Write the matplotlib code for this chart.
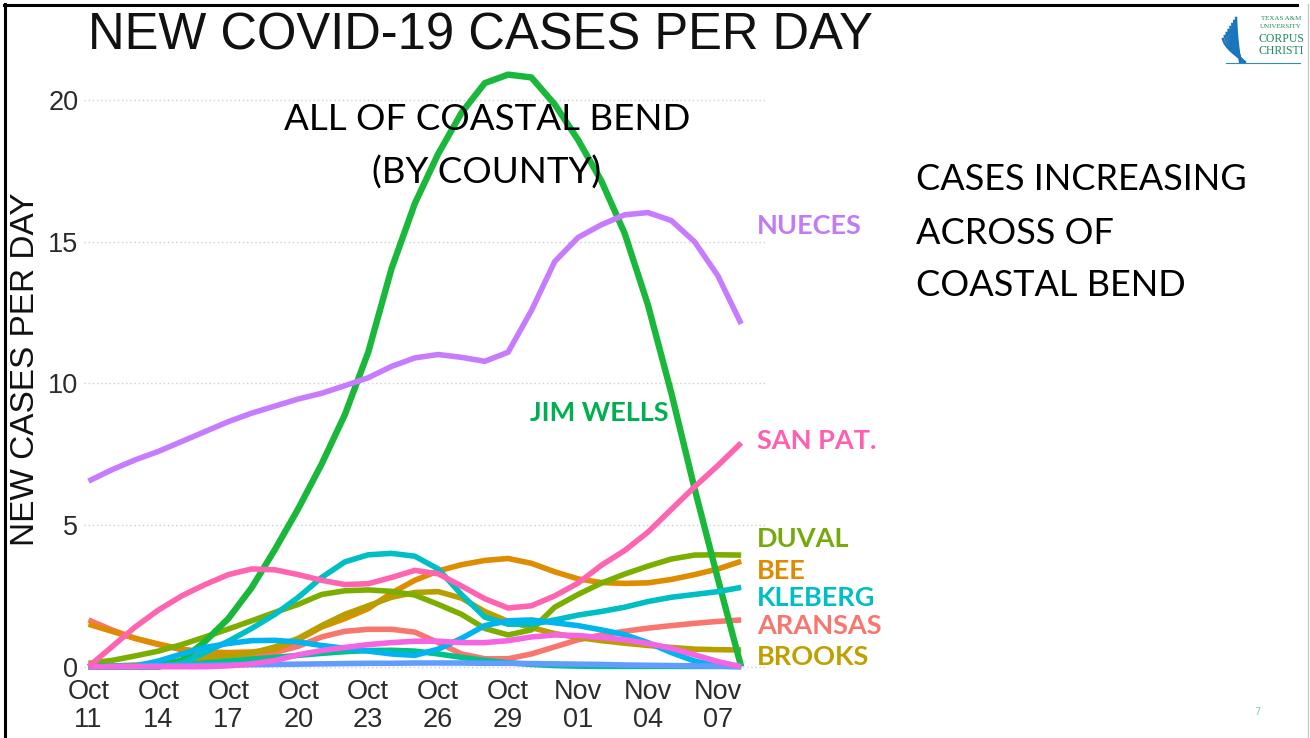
import matplotlib

matplotlib.use("Agg")
import matplotlib.pyplot as plt
import matplotlib.dates as mdates
from matplotlib.lines import Line2D
import numpy as np
import pandas as pd

# daily smoothed new cases, Oct 11 .. Nov 08
dates = pd.date_range("2020-10-11", "2020-11-08", freq="D")

aransas = [1.65, 1.3, 1.0, 0.78, 0.6, 0.48, 0.42, 0.42, 0.5, 0.72, 1.05, 1.25, 1.32, 1.32, 1.22,
           0.85, 0.45, 0.28, 0.28, 0.45, 0.7, 0.95, 1.12, 1.25, 1.36, 1.45, 1.53, 1.6, 1.65]
bee = [1.5, 1.25, 1.0, 0.8, 0.62, 0.52, 0.5, 0.52, 0.6, 0.95, 1.4, 1.7, 2.05, 2.6, 3.05,
       3.38, 3.6, 3.75, 3.82, 3.65, 3.35, 3.1, 2.97, 2.94, 2.96, 3.08, 3.25, 3.45, 3.72]
brooks = [0, 0.02, 0.06, 0.12, 0.2, 0.3, 0.38, 0.48, 0.7, 1.0, 1.45, 1.85, 2.15, 2.45, 2.62,
          2.65, 2.42, 1.95, 1.6, 1.38, 1.17, 1.03, 0.92, 0.83, 0.75, 0.68, 0.62, 0.6, 0.59]
duval = [0.12, 0.22, 0.38, 0.55, 0.78, 1.05, 1.33, 1.62, 1.92, 2.2, 2.55, 2.68, 2.71, 2.66, 2.53,
         2.2, 1.85, 1.35, 1.12, 1.3, 2.1, 2.55, 2.95, 3.27, 3.55, 3.8, 3.94, 3.95, 3.94]
jim_wells = [0, 0, 0, 0, 0.22, 0.89, 1.7, 2.79, 4.14, 5.58, 7.15, 8.9, 11.1, 14.05, 16.35,
             18.1, 19.55, 20.6, 20.9, 20.8, 19.85, 18.6, 17.15, 15.3, 12.77, 9.67, 6.29, 3.1, 0]
jim_hogg = [0, 0, 0, 0.02, 0.07, 0.13, 0.2, 0.27, 0.33, 0.4, 0.47, 0.53, 0.57, 0.58, 0.55,
            0.45, 0.33, 0.22, 0.14, 0.08, 0.04, 0.02, 0.01, 0.01, 0.01, 0.01, 0.01, 0.01, 0.01]
kleberg = [0, 0, 0, 0, 0.12, 0.5, 0.9, 1.35, 1.85, 2.45, 3.15, 3.7, 3.95, 4.0, 3.9,
           3.45, 2.55, 1.75, 1.5, 1.5, 1.65, 1.82, 1.95, 2.1, 2.3, 2.45, 2.55, 2.65, 2.8]
live_oak = [0, 0, 0.02, 0.2, 0.45, 0.68, 0.82, 0.92, 0.93, 0.87, 0.75, 0.65, 0.55, 0.45, 0.4,
            0.62, 1.0, 1.45, 1.62, 1.65, 1.55, 1.45, 1.3, 1.13, 0.85, 0.5, 0.2, 0.02, 0]
mcmullen = [0, 0.01, 0.02, 0.03, 0.04, 0.05, 0.06, 0.07, 0.08, 0.09, 0.1, 0.11, 0.12, 0.12, 0.13,
            0.13, 0.13, 0.12, 0.12, 0.11, 0.1, 0.09, 0.08, 0.06, 0.05, 0.04, 0.03, 0.02, 0.01]
nueces = [6.55, 6.95, 7.3, 7.6, 7.95, 8.3, 8.65, 8.95, 9.2, 9.45, 9.65, 9.92, 10.2, 10.6, 10.9,
          11.02, 10.92, 10.78, 11.1, 12.57, 14.3, 15.15, 15.6, 15.95, 16.03, 15.75, 15.0, 13.8, 12.1]
refugio = [0, 0, 0, 0, 0, 0, 0.03, 0.1, 0.22, 0.42, 0.57, 0.68, 0.78, 0.85, 0.9,
           0.9, 0.85, 0.85, 0.92, 1.05, 1.12, 1.1, 1.03, 0.95, 0.82, 0.65, 0.42, 0.18, 0]
san_pat = [0, 0.7, 1.4, 2.0, 2.5, 2.9, 3.25, 3.45, 3.42, 3.25, 3.05, 2.9, 2.93, 3.15, 3.4,
           3.28, 2.85, 2.4, 2.07, 2.15, 2.5, 2.95, 3.58, 4.1, 4.75, 5.55, 6.35, 7.1, 7.9]

series = [aransas, bee, brooks, duval, jim_wells, jim_hogg, kleberg, live_oak,
          mcmullen, nueces, refugio, san_pat]
colors = ["#F8766D", "#DE8C00", "#B79F00", "#7CAE00", "#19B83A", "#00C08B", "#00BFC4",
          "#00B4F0", "#619CFF", "#C77CFF", "#F564E3", "#FF64B0"]

tick_dates = ["2020-10-11", "2020-10-14", "2020-10-17", "2020-10-20", "2020-10-23",
              "2020-10-26", "2020-10-29", "2020-11-01", "2020-11-04", "2020-11-07"]
tick_labels = ["Oct\n11", "Oct\n14", "Oct\n17", "Oct\n20", "Oct\n23",
               "Oct\n26", "Oct\n29", "Nov\n01", "Nov\n04", "Nov\n07"]
y_ticks = [0, 5, 10, 15, 20]

county_labels = ["NUECES", "SAN PAT.", "DUVAL", "BEE", "KLEBERG", "ARANSAS", "BROOKS"]
county_colors = ["#C17CF5", "#FF5FB0", "#76A90C", "#E08A00", "#00BFC4", "#F8766D", "#C0A000"]
county_y = [225, 440, 538, 570, 597, 625, 656]

W, H = 1310, 738


def fx(x):
    return np.asarray(x) / W


def fy(y):
    return 1 - np.asarray(y) / H


fig = plt.figure(figsize=(W / 100, H / 100), dpi=100)

# plot panel
left, right, top, bottom = 84, 765, 58, 672
ax = fig.add_axes([fx(left), fy(bottom), (right - left) / W, (bottom - top) / H])
d0 = mdates.date2num(pd.Timestamp("2020-10-11"))
px_day = 23.31
ax.set_xlim(d0 - (88.5 - left) / px_day, d0 - (88.5 - left) / px_day + (right - left) / px_day)
px_unit = 28.33
ax.set_ylim(-(bottom - 666.7) / px_unit, (666.7 - top) / px_unit)

for yv in y_ticks:
    ax.axhline(yv, color="#cfcfcf", lw=1.0, ls=(0, (1, 2)), zorder=0)

for vals, c in zip(series, colors):
    lw = 4.6 if c == "#19B83A" else 4.0
    ax.plot(dates, vals, color=c, lw=lw, solid_capstyle="butt", solid_joinstyle="round")

ax.set_xticks(pd.to_datetime(tick_dates))
ax.set_xticklabels(tick_labels, fontsize=19.5, family="Liberation Sans", color="#2b2b2b",
                   linespacing=1.08)
ax.set_yticks(y_ticks)
ax.set_yticklabels([str(v) for v in y_ticks], fontsize=19.5, family="Liberation Sans",
                   color="#2b2b2b")
ax.tick_params(axis="x", length=0, pad=5)
ax.tick_params(axis="y", length=0, pad=4)
for s in ax.spines.values():
    s.set_visible(False)
ax.patch.set_alpha(0)

# slide texts
fig.text(fx(88), fy(36), "NEW COVID-19 CASES PER DAY", fontsize=36.5, family="Liberation Sans",
         ha="left", va="center", color="#111111")
fig.text(fx(26), fy(369), "NEW CASES PER DAY", fontsize=24, family="Liberation Sans",
         rotation=90, ha="center", va="center", color="#111111")
fig.text(fx(487), fy(119), "ALL OF COASTAL BEND", fontsize=26.5, family="Lato",
         ha="center", va="center", color="black")
fig.text(fx(487), fy(173), "(BY COUNTY)", fontsize=26.5, family="Lato",
         ha="center", va="center", color="black")
for i, line in enumerate(["CASES INCREASING", "ACROSS OF", "COASTAL BEND"]):
    fig.text(fx(916), fy(180 + 53 * i), line, fontsize=26, family="Lato",
             ha="left", va="center", color="black")

fig.text(fx(530), fy(413), "JIM WELLS", fontsize=19.5, family="Lato", weight="bold",
         ha="left", va="center", color="#00B050")
for lab, c, y in zip(county_labels, county_colors, county_y):
    fig.text(fx(757), fy(y + 1), lab, fontsize=19.5, family="Lato", weight="bold",
             ha="left", va="center", color=c)

fig.text(fx(1257), fy(712), "7", fontsize=7, color="#7FCFB0", ha="center", va="center")

# slide frame
fig.add_artist(Line2D([fx(4), fx(1297)], [fy(5), fy(5)], color="black", lw=2.2))
fig.add_artist(Line2D([fx(5), fx(5)], [fy(4), fy(738)], color="black", lw=2.2))
fig.add_artist(Line2D([fx(1308), fx(1308)], [fy(4), fy(738)], color="#c8c8c8", lw=1))

# logo
for k in range(8):
    t = np.linspace(0, 1, 20)
    xs = 1240 - (4 + 2.6 * k) * np.sin(t * 1.4) + k * 0.7
    ys = 62 - (44 - 3 * k) * t
    fig.add_artist(Line2D(fx(xs), fy(ys), color="#1B75BC", lw=1.8))
fig.add_artist(Line2D([fx(1226), fx(1300)], [fy(63), fy(63)], color="#2E8BC0", lw=0.8))
for txt, y, s in [("TEXAS A&M", 19, 5), ("UNIVERSITY", 27, 5), ("CORPUS", 39, 8.5),
                  ("CHRISTI", 51, 8.5)]:
    fig.text(fx(1281), fy(y), txt, fontsize=s, family="Liberation Serif", color="#1E8C5A",
             ha="center", va="center")

fig.savefig("out.png", dpi=100)
